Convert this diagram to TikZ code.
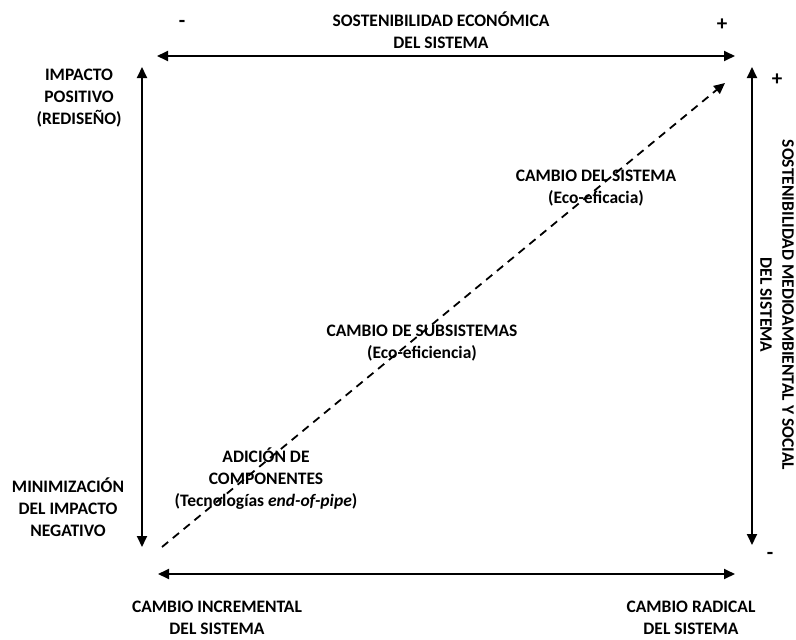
\documentclass[tikz,border=0pt]{standalone}
\usepackage{fontspec}
\setmainfont{Carlito}
\usetikzlibrary{arrows.meta}

\begin{document}
\begin{tikzpicture}
    [%%%%%%%%%%%%%%%%%%%%%%%%%%%%%%
        x=1pt,y=-1pt,
        lbl/.style={align=center,inner sep=0pt,font=\fontsize{17.5}{22}\selectfont\bfseries},
        sign/.style={inner sep=0pt,font=\fontsize{21}{22}\selectfont\bfseries},
        axis/.style={{Triangle[length=11pt,width=10pt]}-{Triangle[length=11pt,width=10pt]},line width=1.8pt},
        path/.style={-{Triangle[length=11pt,width=10pt]},line width=1.8pt,dash pattern=on 8pt off 6pt},
    ]%%%%%%%%%%%%%%%%%%%%%%%%%%%%%%

\useasboundingbox (0,0) rectangle (796,640);

% ends of the axes
\coordinate (topL) at (157,56);
\coordinate (topR) at (735,56);
\coordinate (botL) at (158,574);
\coordinate (botR) at (735,574);
\coordinate (leftT) at (142,67);
\coordinate (leftB) at (142,547);
\coordinate (rightT) at (752,67);
\coordinate (rightB) at (752,545);
\coordinate (pathS) at (162,547);
\coordinate (pathE) at (725,83);

\draw[axis] (topL) -- (topR);
\draw[axis] (botL) -- (botR);
\draw[axis] (leftT) -- (leftB);
\draw[axis] (rightT) -- (rightB);
\draw[path] (pathS) -- (pathE);

\node[sign] (minusT) at (182,24) {-};
\node[sign] (plusT) at (722,25) {+};
\node[sign] (plusR) at (777,80) {+};
\node[sign] (minusR) at (770,556) {-};

\node[lbl] (econ) at (441,30) {SOSTENIBILIDAD ECONÓMICA\\DEL SISTEMA};
\node[lbl] (impPos) at (79,98) {IMPACTO\\POSITIVO\\(REDISEÑO)};
\node[lbl] (impNeg) at (68,507) {MINIMIZACIÓN\\DEL IMPACTO\\NEGATIVO};
\node[lbl] (incr) at (217,618) {CAMBIO INCREMENTAL\\DEL SISTEMA};
\node[lbl] (radic) at (691,618) {CAMBIO RADICAL\\DEL SISTEMA};
\node[lbl, rotate=-90] (medio) at (777,305) {SOSTENIBILIDAD MEDIOAMBIENTAL Y SOCIAL\\DEL SISTEMA};

\node[lbl] (compo) at (266,479) {ADICIÓN DE\\COMPONENTES\\(Tecnologías \textit{end-of-pipe})};
\node[lbl] (subsis) at (422,343) {CAMBIO DE SUBSISTEMAS\\(Eco-eficiencia)};
\node[lbl] (sistema) at (596,188) {CAMBIO DEL SISTEMA\\(Eco-eficacia)};
\end{tikzpicture}
\end{document}
